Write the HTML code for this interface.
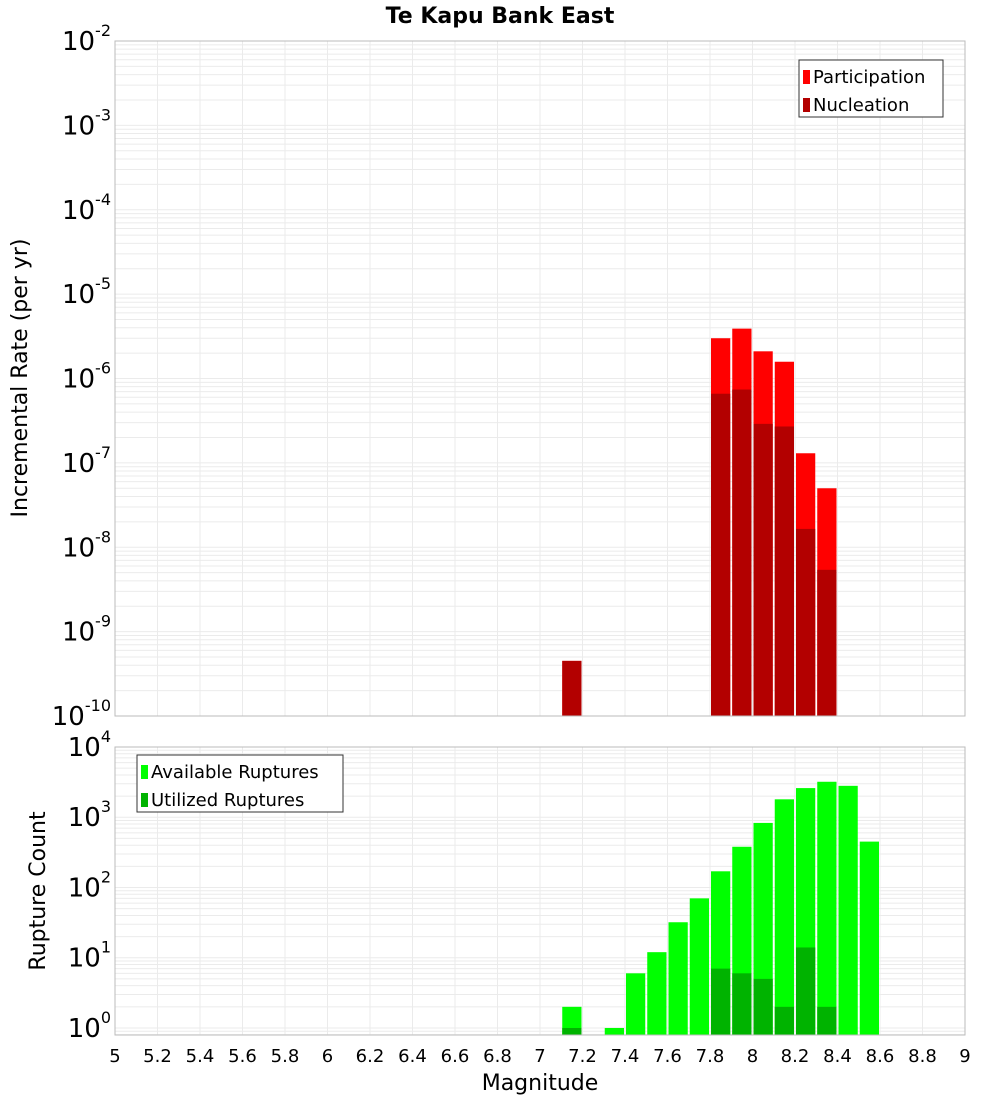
<!DOCTYPE html>
<html><head><meta charset="utf-8"><style>
body{margin:0;background:#fff;font-family:"DejaVu Sans","Liberation Sans",sans-serif;}
svg text{font-family:"DejaVu Sans","Liberation Sans",sans-serif;}
</style></head><body>
<svg id="chart" width="1000" height="1100" xmlns="http://www.w3.org/2000/svg">
<text x="500" y="23" text-anchor="middle" font-size="22" font-weight="bold">Te Kapu Bank East</text>
<g id="top"></g>
<g id="bot"></g>
<text transform="translate(27,378) rotate(-90)" text-anchor="middle" font-size="22">Incremental Rate (per yr)</text>
<text transform="translate(45,891) rotate(-90)" text-anchor="middle" font-size="22">Rupture Count</text>
<text x="540" y="1090" text-anchor="middle" font-size="22">Magnitude</text>
</svg>
<script>
const mags = [7.15,7.35,7.45,7.55,7.65,7.75,7.85,7.95,8.05,8.15,8.25,8.35,8.45,8.55];
const partMags = [7.15,7.85,7.95,8.05,8.15,8.25,8.35];
const participation = [4.5e-10,3.0e-6,3.9e-6,2.1e-6,1.58e-6,1.3e-7,5.0e-8];
const nucleation = [4.5e-10,6.6e-7,7.4e-7,2.9e-7,2.7e-7,1.65e-8,5.4e-9];
const available = [2,1,6,12,32,70,170,380,830,1800,2600,3200,2800,450];
const utilMags = [7.15,7.85,7.95,8.05,8.15,8.25,8.35];
const utilized = [1,7,6,5,2,14,2];
const xTicks = ["5","5.2","5.4","5.6","5.8","6","6.2","6.4","6.6","6.8","7","7.2","7.4","7.6","7.8","8","8.2","8.4","8.6","8.8","9"];

const NS="http://www.w3.org/2000/svg";
const X0=115,X1=965;
const xs=m=>X0+(m-5)/4*(X1-X0);
function mk(p,t,a){const e=document.createElementNS(NS,t);for(const k in a)e.setAttribute(k,a[k]);p.appendChild(e);return e;}
function panel(g,top,bot,lmin,lmax,nm){
  const ys=v=>bot-(Math.log10(v)-lmin)/(lmax-lmin)*(bot-top);
  for(let d=Math.ceil(lmin)-1;d<lmax;d++)for(let k=1;k<10;k++){const v=k*Math.pow(10,d);const y=ys(v);if(y<top-0.1||y>bot+0.1)continue;
    const l=mk(g,'line',{x1:X0,x2:X1,y1:y,y2:y,stroke:'#ebebeb','stroke-width':1});
    }
  xTicks.forEach(t=>{const x=xs(+t);const l=mk(g,'line',{x1:x,x2:x,y1:top,y2:bot,stroke:'#ebebeb','stroke-width':1});
    });
  for(let d=Math.ceil(lmin);d<=lmax;d++){const y=ys(Math.pow(10,d));
    const t=mk(g,'text',{x:X0-4,y:y+9,'text-anchor':'end','font-size':26});
    
    t.textContent='10';const s=mk(t,'tspan',{dy:-14,'font-size':16});s.textContent=String(d);}
  return ys;
}
function bars(g,ms,vals,ys,bot,color,nm){
  ms.forEach((m,i)=>{const x=xs(m-0.05)+1,w=xs(m+0.05)-xs(m-0.05)-2;const y=Math.max(ys(vals[i]),0);
    const r=mk(g,'rect',{x:x,y:y,width:w,height:bot-y,fill:color});
    });
}
const gt=document.getElementById('top');
const T0=41,T1=716;
const ysT=panel(gt,T0,T1,-10,-2,'rate');
bars(gt,partMags,participation,ysT,T1,'#ff0000','participation');
bars(gt,partMags,nucleation,ysT,T1,'#b30000','nucleation');
mk(gt,'rect',{x:X0,y:T0,width:X1-X0,height:T1-T0,fill:'none',stroke:'#bbb'});
const gb=document.getElementById('bot');
const B0=747,B1=1035;
const ysB=panel(gb,B0,B1,-0.1,4,'count');
bars(gb,mags,available,ysB,B1,'#00ff00','available');
bars(gb,utilMags,utilized,ysB,B1,'#00b300','utilized');
mk(gb,'rect',{x:X0,y:B0,width:X1-X0,height:B1-B0,fill:'none',stroke:'#bbb'});
xTicks.forEach(t=>{const e=mk(gb,'text',{x:xs(+t),y:1062,'text-anchor':'middle','font-size':18});
  e.textContent=t;});
function legend(g,x,y,w,items){const b=mk(g,'rect',{x:x,y:y,width:w,height:57,fill:'#fff',stroke:'#333'});
  
  items.forEach((it,i)=>{const r=mk(g,'rect',{x:x+4,y:y+10+i*28,width:7,height:14,fill:it[1]});
    
    const t=mk(g,'text',{x:x+14,y:y+23+i*28,'font-size':18});
    t.textContent=it[0];});}
legend(gt,799,60,144,[['Participation','#ff0000'],['Nucleation','#b30000']]);
legend(gb,137,755,206,[['Available Ruptures','#00ff00'],['Utilized Ruptures','#00b300']]);
</script>
</body></html>
